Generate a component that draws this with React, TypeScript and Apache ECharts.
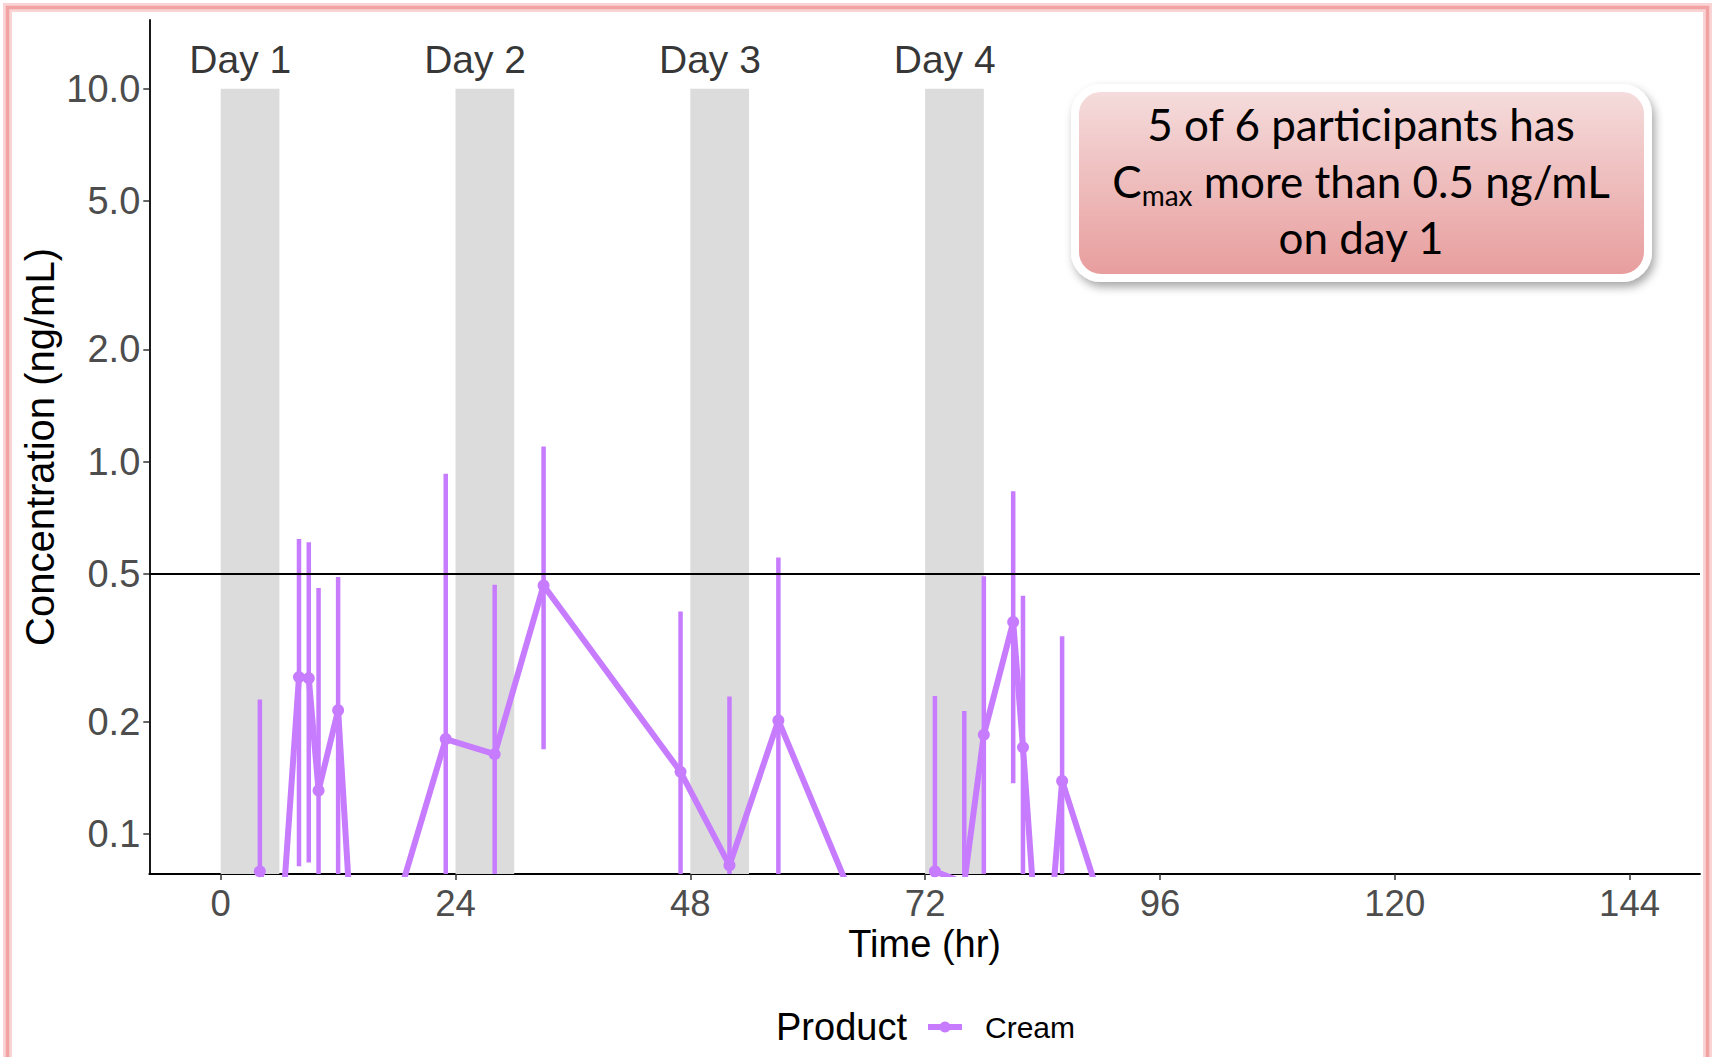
import React, { useEffect, useRef } from 'react';
import * as echarts from 'echarts';

// ---- data ----
const hours = [4, 6, 8, 9, 10, 12, 14, 23, 28, 33, 47, 52, 57, 72, 73, 76, 78, 81, 82, 84, 86, 96, 120, 144];
const meanConc = [0.0795, 0.047, 0.264, 0.262, 0.131, 0.215, 0.029, 0.18, 0.164, 0.465, 0.147, 0.0825, 0.202, 0.023, 0.0795, 0.074, 0.185, 0.371, 0.171, 0.031, 0.139, 0.021, 0.02, 0.02];

const barHours = [4, 8, 9, 10, 12, 23, 28, 33, 47, 52, 57, 73, 76, 78, 81, 82, 86];
const barLow = [0.03, 0.082, 0.084, 0.03, 0.03, 0.03, 0.03, 0.169, 0.03, 0.03, 0.03, 0.03, 0.03, 0.03, 0.137, 0.03, 0.03];
const barHigh = [0.23, 0.62, 0.607, 0.458, 0.49, 0.927, 0.467, 1.098, 0.396, 0.234, 0.553, 0.235, 0.214, 0.492, 0.832, 0.436, 0.34];

const dosingStart = [0, 24, 48, 72];
const dosingEnd = [6, 30, 54, 78];
const dayLabels = ['Day 1', 'Day 2', 'Day 3', 'Day 4'];
const dayLabelHours = [2, 26, 50, 74];
const dayLabelConc = 11.95;
const bandTopConc = 10;

const xTicks = [0, 24, 48, 72, 96, 120, 144];
const yTicks = [0.1, 0.2, 0.5, 1, 2, 5, 10];
const thresholdConc = 0.5;

const xMin = -7.3;
const xMax = 151.2;
const yMinConc = 0.0782;
const yMaxConc = 15.3;

const seriesName = 'Cream';
const legendTitle = 'Product';
const calloutLines = ['5 of 6 participants has', 'more than 0.5 ng/mL', 'on day 1'];

const PURPLE = '#C77CFF';
const AXIS_FONT = 'Liberation Sans';

const lg = (v: number) => Math.log10(v);

export default function App() {
  const ref = useRef<HTMLDivElement>(null);

  useEffect(() => {
    if (!ref.current) return;
    const chart = echarts.init(ref.current, null, { renderer: 'svg' });
    const yMin = lg(yMinConc);
    const yMax = lg(yMaxConc);
    const yTickVals = yTicks.map(lg);

    const lineData = hours.map((h, i) => [h, lg(meanConc[i])]);
    const barData = barHours.map((h, i) => [h, lg(barLow[i]), lg(barHigh[i])]);
    const labelData = dayLabelHours.map((h, i) => ({ name: dayLabels[i], value: [h, lg(dayLabelConc)] }));
    const bands = dosingStart.map((s, i) => [
      { xAxis: s, yAxis: yMin },
      { xAxis: dosingEnd[i], yAxis: lg(bandTopConc) },
    ]);

    const option: any = {
      animation: false,
      backgroundColor: '#ffffff',
      grid: {
        left: 149.3,
        right: 13,
        top: 20,
        bottom: 183,
        containLabel: false,
        outerBoundsMode: 'none',
      },
      xAxis: {
        type: 'value',
        min: xMin,
        max: xMax,
        splitLine: { show: false },
        axisLine: { show: true, onZero: false, lineStyle: { color: '#000', width: 1.8 } },
        axisTick: { show: true, length: 6, customValues: xTicks, lineStyle: { color: '#333', width: 1.5 } },
        axisLabel: {
          customValues: xTicks,
          fontSize: 36.5,
          color: '#4D4D4D',
          fontFamily: AXIS_FONT,
          margin: 11,
        },
        name: 'Time (hr)',
        nameLocation: 'middle',
        nameGap: 51,
        nameMoveOverlap: false,
        nameTextStyle: { fontSize: 38, color: '#000', fontFamily: AXIS_FONT },
      },
      yAxis: {
        type: 'value',
        min: yMin,
        max: yMax,
        splitLine: { show: false },
        axisLine: { show: true, onZero: false, lineStyle: { color: '#000', width: 1.8 } },
        axisTick: { show: true, length: 6, customValues: yTickVals, lineStyle: { color: '#333', width: 1.5 } },
        axisLabel: {
          customValues: yTickVals,
          formatter: (v: number) => Math.pow(10, v).toFixed(1),
          fontSize: 38,
          color: '#4D4D4D',
          fontFamily: AXIS_FONT,
          margin: 9,
        },
        name: 'Concentration (ng/mL)',
        nameLocation: 'middle',
        nameGap: 89,
        nameMoveOverlap: false,
        nameTextStyle: { fontSize: 40, color: '#000', fontFamily: AXIS_FONT },
      },
      legend: {
        data: [seriesName],
        left: 920,
        top: 1007,
        itemWidth: 34,
        itemHeight: 14,
        lineStyle: { width: 6 },
        textStyle: { fontSize: 30, color: '#000', fontFamily: AXIS_FONT, padding: [0, 0, 0, 18] },
      },
      series: [
        {
          type: 'scatter',
          name: 'days',
          z: 1,
          symbolSize: 0,
          data: labelData,
          silent: true,
          label: {
            show: true,
            position: 'inside',
            formatter: '{b}',
            fontSize: 39,
            color: '#000',
            fontFamily: AXIS_FONT,
          },
          markArea: {
            silent: true,
            itemStyle: { color: '#DCDCDC', opacity: 1 },
            data: bands,
          },
          markLine: {
            silent: true,
            symbol: ['none', 'none'],
            label: { show: false },
            lineStyle: { color: '#000', width: 2, type: 'solid' },
            data: [{ yAxis: lg(thresholdConc) }],
          },
        },
        {
          type: 'custom',
          name: 'errorbars',
          z: 3,
          silent: true,
          encode: { x: 0, y: [1, 2] },
          data: barData,
          renderItem: (params: any, api: any) => {
            const x = api.value(0);
            const p1 = api.coord([x, api.value(1)]);
            const p2 = api.coord([x, api.value(2)]);
            const cs = params.coordSys;
            const top = cs.y;
            const bottom = cs.y + cs.height;
            const y1 = Math.min(Math.max(p1[1], top), bottom);
            const y2 = Math.min(Math.max(p2[1], top), bottom);
            return {
              type: 'line',
              shape: { x1: p1[0], y1, x2: p1[0], y2 },
              style: { stroke: PURPLE, lineWidth: 4.5 },
            };
          },
        },
        {
          type: 'line',
          name: seriesName,
          z: 4,
          data: lineData,
          clip: true,
          symbol: 'circle',
          symbolSize: 12,
          showAllSymbol: true,
          color: PURPLE,
          itemStyle: { color: PURPLE },
          lineStyle: { color: PURPLE, width: 6 },
        },
      ],
      graphic: [
        {
          type: 'rect',
          silent: true,
          shape: { x: 7.5, y: 7.5, width: 1700, height: 1200 },
          style: { fill: 'none', stroke: 'rgba(244,160,160,0.45)', lineWidth: 9 },
        },
        {
          type: 'rect',
          silent: true,
          shape: { x: 7.5, y: 7.5, width: 1700, height: 1200 },
          style: { fill: 'none', stroke: '#F2A2A2', lineWidth: 3.5 },
        },
        {
          type: 'rect',
          silent: true,
          shape: { x: 1075, y: 88, width: 573, height: 190, r: 26 },
          style: {
            fill: {
              type: 'linear', x: 0, y: 0, x2: 0, y2: 1,
              colorStops: [
                { offset: 0, color: '#F5DDDD' },
                { offset: 1, color: '#E89C9C' },
              ],
            },
            stroke: '#ffffff',
            lineWidth: 8,
            shadowBlur: 10,
            shadowOffsetX: 3,
            shadowOffsetY: 5,
            shadowColor: 'rgba(0,0,0,0.35)',
          },
        },
        {
          type: 'text',
          silent: true,
          x: 1361,
          y: 124,
          style: {
            text: calloutLines[0],
            fontSize: 44,
            fontFamily: 'Lato',
            fill: '#000',
            align: 'center',
            verticalAlign: 'middle',
            textAlign: 'center',
            textVerticalAlign: 'middle',
          },
        },
        {
          type: 'text',
          silent: true,
          x: 1361,
          y: 181,
          style: {
            text: '{n|C}{s|max}{n| ' + calloutLines[1] + '}',
            rich: {
              n: { fontSize: 44, fontFamily: 'Lato', fill: '#000', lineHeight: 56 },
              s: { fontSize: 28, fontFamily: 'Lato', fill: '#000', lineHeight: 30, verticalAlign: 'bottom' },
            },
            align: 'center',
            verticalAlign: 'middle',
            textAlign: 'center',
            textVerticalAlign: 'middle',
          },
        },
        {
          type: 'text',
          silent: true,
          x: 1361,
          y: 237,
          style: {
            text: calloutLines[2],
            fontSize: 44,
            fontFamily: 'Lato',
            fill: '#000',
            align: 'center',
            verticalAlign: 'middle',
            textAlign: 'center',
            textVerticalAlign: 'middle',
          },
        },
        {
          type: 'text',
          silent: true,
          x: 776,
          y: 1027,
          style: {
            text: legendTitle,
            fontSize: 38,
            fontFamily: AXIS_FONT,
            fill: '#000',
            align: 'left',
            verticalAlign: 'middle',
            textAlign: 'left',
            textVerticalAlign: 'middle',
          },
        },
      ],
    };

    chart.setOption(option);
    return () => chart.dispose();
  }, []);

  return (
    <div
      ref={ref}
      style={{ position: 'fixed', left: 0, top: 0, width: 1713, height: 1057, background: '#fff' }}
    />
  );
}
